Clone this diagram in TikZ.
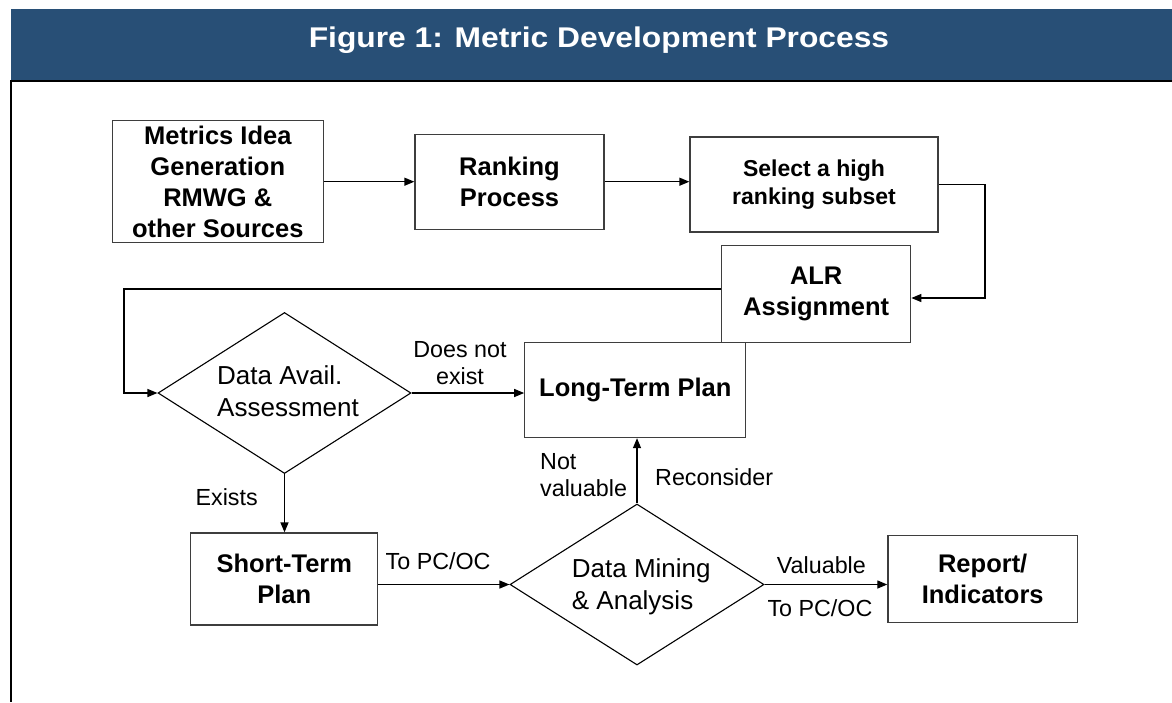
\documentclass[tikz,border=0pt]{standalone}
\usepackage{fontspec}
\usepackage{graphicx}
\setmainfont{Liberation Sans}
\usetikzlibrary{arrows.meta,shapes.geometric,calc}

\definecolor{headblue}{RGB}{40,79,118}
\definecolor{edgegray}{RGB}{62,62,62}

% type sizes (1pt = one unit of the picture)
\newcommand\boxfont{\fontsize{25.5}{31}\selectfont\bfseries}
\newcommand\subsetfont{\fontsize{23}{28.5}\selectfont\bfseries}
\newcommand\decfont{\fontsize{26}{32}\selectfont}
\newcommand\lblfont{\fontsize{23.3}{27.2}\selectfont}
\newcommand\titlefont{\fontsize{28.5}{33}\selectfont\bfseries}

\begin{document}
\begin{tikzpicture}[x=1pt,y=-1pt,
  box/.style={draw=edgegray, line width=1.3pt, fill=white, inner sep=0pt,
              align=center, font=\boxfont},
  decision/.style={diamond, draw=black, line width=1.1pt, inner sep=0pt,
              minimum width=253pt, minimum height=161pt},
  dectext/.style={inner sep=0pt, align=left, font=\decfont},
  lbl/.style={inner sep=0pt, font=\lblfont},
  conn/.style={draw=black, line width=1.3pt, -{Triangle[length=10pt,width=8pt]}}
]
\useasboundingbox (0,0) rectangle (1172,702);

% title band and frame
\fill[headblue] (11,9) rectangle (1172,80);
\node[text=white, font=\titlefont, inner sep=0pt, anchor=base] (title) at (599,47.8)
  {\scalebox{1.115}[1]{Figure 1: Metric Development Process}};
\draw[black, line width=2.2pt] (1172,81) -- (11,81) -- (11,702);

% process boxes
\node[box, minimum width=211pt, minimum height=122pt] (idea) at (217.8,181.7)
  {Metrics Idea\\Generation\\RMWG \&\\other Sources};
\node[box, minimum width=189pt, minimum height=95pt] (rank) at (509.5,181.7)
  {Ranking\\Process};
\node[box, font=\subsetfont, minimum width=248pt, minimum height=95pt] (subset) at (814,184.5)
  {Select a high\\ranking subset};
\node[box, minimum width=189pt, minimum height=97pt] (alr) at (816.2,294.3)
  {ALR\\Assignment};
\node[box, minimum width=221pt, minimum height=95pt] (longterm) at (635.3,390)
  {Long-Term Plan};
\node[box, minimum width=187pt, minimum height=92pt] (shortterm) at (284.3,579)
  {Short-Term\\Plan};
\node[box, minimum width=189.5pt, minimum height=87pt] (report) at (982.7,579.2)
  {Report/\\Indicators};

% decisions
\node[decision] (avail) at (284.5,393) {};
\node[dectext, anchor=north west] (availtext) at (217,365.4) {Data Avail.\\Assessment};
\node[decision, minimum width=254pt] (mining) at (637,584.5) {};
\node[dectext, anchor=north west] (miningtext) at (571.7,558.7) {Data Mining\\\& Analysis};

% connectors
\coordinate (turnright) at (985,184.5);
\coordinate (turnleft) at (124,289);
\draw[conn] (idea.east) -- (idea.east -| rank.west);
\draw[conn] (rank.east) -- (rank.east -| subset.west);
\draw[conn] (subset.east) -- (turnright) |- ([yshift=-3.7pt]alr.east);
\draw[conn] ([yshift=5.3pt]alr.west) -- (turnleft) |- (avail.west);
\draw[conn] (avail.east) -- (avail.east -| longterm.west);
\draw[conn] (avail.south) -- (avail.south |- shortterm.north);
\draw[conn] (shortterm.east |- mining.west) -- (mining.west);
\draw[conn] (mining.north) -- (mining.north |- longterm.south);
\draw[conn] (mining.east) -- (mining.east -| report.west);

% connector labels
\node[lbl, align=center, anchor=north] (lblnotexist) at (460,341.3) {Does not\\exist};
\node[lbl, anchor=base] (lblexists) at (226.7,505) {Exists};
\node[lbl, align=left, anchor=north west] (lblnotval) at (540,453.3) {Not\\valuable};
\node[lbl, anchor=base west] (lblrecons) at (655,485.7) {Reconsider};
\node[lbl, anchor=base west] (lbltopc) at (385.5,569) {To PC/OC};
\node[lbl, anchor=base west] (lblvaluable) at (776.7,573.3) {Valuable};
\node[lbl, anchor=base west] (lbltopc2) at (767.3,616.7) {To PC/OC};
\end{tikzpicture}
\end{document}
